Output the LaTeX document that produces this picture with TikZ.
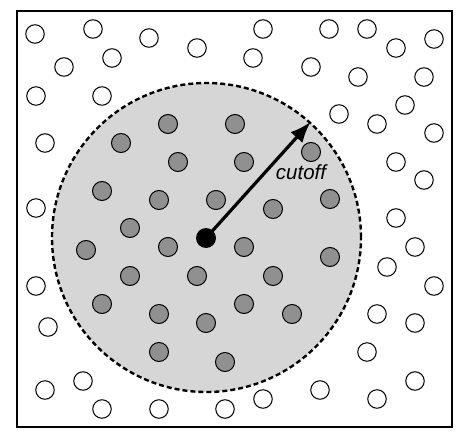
\documentclass[tikz,border=0pt]{standalone}
\usepackage{fontspec}
\setmainfont{Liberation Sans}
\usetikzlibrary{arrows.meta}
\definecolor{zonegray}{RGB}{214,214,214}
\definecolor{dotgray}{RGB}{144,144,144}
\begin{document}
\begin{tikzpicture}[x=1pt,y=-1pt,
  opendot/.style={circle,draw=black,line width=1pt,fill=white,minimum size=18.5pt,inner sep=0pt},
  graydot/.style={circle,draw=black,line width=1pt,fill=dotgray,minimum size=19pt,inner sep=0pt},
  centerdot/.style={circle,fill=black,minimum size=20pt,inner sep=0pt},
  zone/.style={circle,draw=black,fill=zonegray,line width=2.4pt,dash pattern=on 5pt off 3pt,minimum size=309pt,inner sep=0pt},
  frame/.style={draw=black,line width=2.4pt},
  radius arrow/.style={line width=3.2pt,-{Latex[length=21pt,width=16pt]}},
  lbl/.style={font=\itshape\fontsize{20.5}{21}\selectfont,inner sep=0pt}]
\useasboundingbox (0,0) rectangle (471,436);
\node[frame,minimum width=435pt,minimum height=416pt,inner sep=0pt] (box) at (234.5,219) {};
\node[zone] (R) at (206.5,237.5) {};
\foreach \x/\y [count=\i] in {35/34,93/29,149/38,197/48,64/67,112/58,36/96,102/96,45/143,36/208,
  263/29,329/29,367/29,434/39,396/48,253/58,311/67,358/77,424/77,405/105,339/114,377/124,434/133,
  396/162,424/180,396/218,415/247,387/267,434/286,377/314,415/323,367/352,415/381,320/390,263/399,
  377/399,36/286,48/327,83/381,45/390,102/409,159/409,225/409}
  \node[opendot] (o\i) at (\x,\y) {};
\foreach \x/\y [count=\i] in {168/124,235/124,121/143,178/162,244/162,311/152,102/191,159/200,
  216/200,273/209,330/199,130/228,86/250,168/247,244/247,330/257,130/276,197/276,273/276,
  102/304,159/314,206/323,244/304,292/314,159/352,225/362}
  \node[graydot] (g\i) at (\x,\y) {};
\node[centerdot] (c) at (206,238) {};
\draw[radius arrow] (c.center) -- (R.48);
\node[lbl] (cut) at (301,172) {cutoff};
\end{tikzpicture}
\end{document}
